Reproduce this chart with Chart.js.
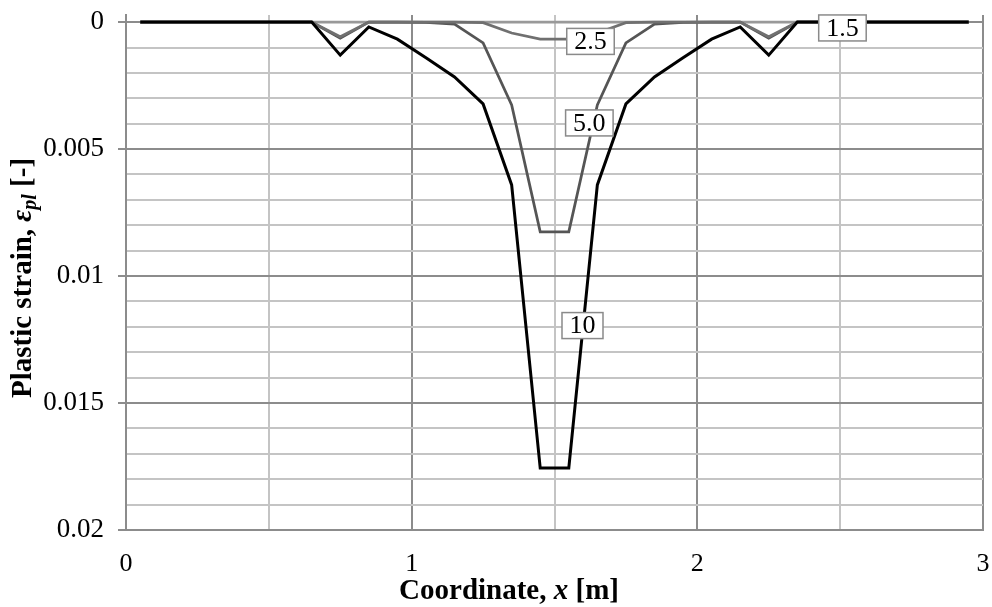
<!DOCTYPE html>
<html>
<head>
<meta charset="utf-8">
<script src="https://cdn.jsdelivr.net/npm/chart.js@4.4.1/dist/chart.umd.min.js"></script>
<style>
  html, body { margin: 0; padding: 0; background: #ffffff; }
  #wrap { width: 992px; height: 607px; position: relative; }
</style>
</head>
<body>
<div id="wrap"><canvas id="c" width="992" height="607"></canvas></div>
<script>
// Coordinate x [m] of each computed point
const coordX = [0.05, 0.15, 0.25, 0.35, 0.45, 0.55, 0.65, 0.75, 0.85, 0.95,
                1.05, 1.15, 1.25, 1.35, 1.45, 1.55, 1.65, 1.75, 1.85, 1.95,
                2.05, 2.15, 2.25, 2.35, 2.45, 2.55, 2.65, 2.75, 2.85, 2.95];

// Plastic strain for each load case
const strain15 = [0, 0, 0, 0, 0, 0, 0, 0, 0, 0,
                  0, 0, 0, 0, 0, 0, 0, 0, 0, 0,
                  0, 0, 0, 0, 0, 0, 0, 0, 0, 0];
const strain25 = [0, 0, 0, 0, 0, 0, 0, 0.00058, 0, 0,
                  0, 0, 0.00002, 0.00043, 0.00067, 0.00067, 0.00043, 0.00002, 0, 0,
                  0, 0, 0.00058, 0, 0, 0, 0, 0, 0, 0];
const strain50 = [0, 0, 0, 0, 0, 0, 0, 0.00063, 0, 0,
                  0.00001, 0.00008, 0.00082, 0.00326, 0.00826, 0.00826, 0.00326, 0.00082, 0.00008, 0.00001,
                  0, 0, 0.00063, 0, 0, 0, 0, 0, 0, 0];
const strain10 = [0, 0, 0, 0, 0, 0, 0, 0.0013, 0.00019, 0.00067,
                  0.0014, 0.00216, 0.00322, 0.00641, 0.01756, 0.01756, 0.00641, 0.00322, 0.00216, 0.0014,
                  0.00067, 0.00019, 0.0013, 0, 0, 0, 0, 0, 0, 0];

const seriesNames = ['1.5', '2.5', '5.0', '10'];
const xTickLabels = ['0', '1', '2', '3'];
const yTickLabels = ['0', '0.005', '0.01', '0.015', '0.02'];

// Label anchors (data coordinates) for the in-plot series labels
const labelAnchorX = [2.508, 1.626, 1.622, 1.598];
const labelAnchorY = [0.00023, 0.00076, 0.00397, 0.01195];

const FONT = "'Liberation Serif', 'Times New Roman', serif";

function pts(ys) { return coordX.map((x, i) => ({ x: x, y: ys[i] })); }

const lineLabels = {
  id: 'lineLabels',
  afterDatasetsDraw(chart) {
    const ctx = chart.ctx;
    const xs = chart.scales.x, ys = chart.scales.y;
    ctx.save();
    ctx.font = '26px ' + FONT;
    ctx.textAlign = 'center';
    ctx.textBaseline = 'middle';
    seriesNames.forEach((name, i) => {
      const cx = xs.getPixelForValue(labelAnchorX[i]);
      const cy = ys.getPixelForValue(labelAnchorY[i]);
      const w = ctx.measureText(name).width + 15;
      const h = 26;
      ctx.fillStyle = '#ffffff';
      ctx.fillRect(cx - w / 2, cy - h / 2, w, h);
      ctx.strokeStyle = '#8a8a8a';
      ctx.lineWidth = 1.5;
      ctx.strokeRect(cx - w / 2, cy - h / 2, w, h);
      ctx.fillStyle = '#000000';
      ctx.fillText(name, cx, cy + 1);
    });
    ctx.restore();
  }
};

function drawRuns(ctx, runs, startX, baseY) {
  let x = startX;
  runs.forEach(r => {
    ctx.font = r.font;
    ctx.fillText(r.t, x, baseY + (r.dy || 0));
    x += ctx.measureText(r.t).width;
  });
}
function runsWidth(ctx, runs) {
  let w = 0;
  runs.forEach(r => { ctx.font = r.font; w += ctx.measureText(r.t).width; });
  return w;
}

const axisTitles = {
  id: 'axisTitles',
  afterDraw(chart) {
    const ctx = chart.ctx;
    ctx.save();
    ctx.fillStyle = '#000000';
    ctx.textBaseline = 'alphabetic';
    ctx.textAlign = 'left';
    // X title
    const xr = [
      { t: 'Coordinate, ', font: 'bold 29px ' + FONT },
      { t: 'x', font: 'italic bold 29px ' + FONT },
      { t: ' [m]', font: 'bold 29px ' + FONT }
    ];
    const xw = runsWidth(ctx, xr);
    drawRuns(ctx, xr, 509 - xw / 2, 599);
    // Y title
    const yr = [
      { t: 'Plastic strain, ', font: 'bold 29px ' + FONT },
      { t: '\u03B5', font: 'italic bold 29px ' + FONT },
      { t: 'pl', font: 'italic bold 20px ' + FONT, dy: 5 },
      { t: ' [-]', font: 'bold 29px ' + FONT }
    ];
    const yw = runsWidth(ctx, yr);
    ctx.translate(31, 278);
    ctx.rotate(-Math.PI / 2);
    drawRuns(ctx, yr, -yw / 2, 0);
    ctx.restore();
  }
};

const isMajorY = v => Math.abs(v * 200 - Math.round(v * 200)) < 1e-6;
const isMajorX = v => Math.abs(v - Math.round(v)) < 1e-6;

new Chart(document.getElementById('c'), {
  type: 'line',
  data: {
    datasets: [
      { label: seriesNames[3], data: pts(strain10), borderColor: '#000000', borderWidth: 3, order: 1 },
      { label: seriesNames[1], data: pts(strain25), borderColor: '#707070', borderWidth: 2.75, order: 2 },
      { label: seriesNames[2], data: pts(strain50), borderColor: '#555555', borderWidth: 2.75, order: 3 },
      { label: seriesNames[0], data: pts(strain15), borderColor: '#999999', borderWidth: 2.75, order: 4 }
    ]
  },
  options: {
    responsive: false,
    animation: false,
    layout: { padding: { top: 15, right: 9, left: 0, bottom: 0 } },
    elements: {
      point: { radius: 0, hoverRadius: 0 },
      line: { tension: 0, fill: false, borderJoinStyle: 'miter', borderCapStyle: 'butt' }
    },
    plugins: { legend: { display: false }, tooltip: { enabled: false } },
    scales: {
      x: {
        type: 'linear', min: 0, max: 3,
        ticks: {
          stepSize: 0.5, autoSkip: false, maxRotation: 0, includeBounds: false,
          font: { family: FONT, size: 26 }, color: '#000000', padding: 19,
          callback: v => isMajorX(v) ? xTickLabels[Math.round(v)] : ''
        },
        grid: {
          drawTicks: false,
          color: c => isMajorX(c.tick.value) ? '#8c8c8c' : '#c4c4c4',
          lineWidth: 2
        },
        border: { color: '#8c8c8c', width: 2 },
        afterFit: s => { s.height = 77; s.paddingLeft = 0; s.paddingRight = 0; }
      },
      y: {
        type: 'linear', reverse: true, min: -0.00028, max: 0.02,
        afterBuildTicks: s => { s.ticks = s.ticks.filter(t => t.value > -1e-9); },
        ticks: {
          stepSize: 0.001, autoSkip: false, includeBounds: false,
          font: { family: FONT, size: 27 }, color: '#000000', padding: 14,
          callback: v => isMajorY(v) ? yTickLabels[Math.round(v * 200)] : ''
        },
        grid: {
          tickLength: 8,
          color: c => isMajorY(c.tick.value) ? '#8c8c8c' : '#c4c4c4',
          tickColor: c => isMajorY(c.tick.value) ? '#8c8c8c' : 'rgba(0,0,0,0)',
          lineWidth: 2
        },
        border: { color: '#8c8c8c', width: 2 },
        afterFit: s => { s.width = 126; s.paddingTop = 0; s.paddingBottom = 0; }
      }
    }
  },
  plugins: [lineLabels, axisTitles]
});
</script>
</body>
</html>
